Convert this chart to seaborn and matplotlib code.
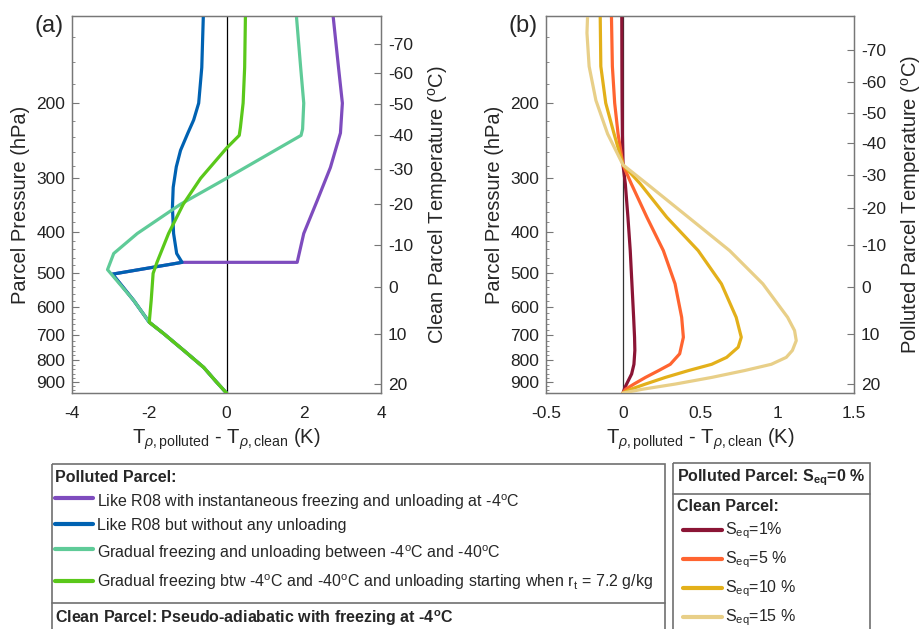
import matplotlib
matplotlib.use("Agg")
import matplotlib.pyplot as plt
import seaborn as sns
from matplotlib.patches import Rectangle
from matplotlib.ticker import FixedLocator, NullLocator, NullFormatter

# ---------------- panel (a): T_rho,polluted - T_rho,clean (K) vs parcel pressure (hPa)
p_purple = [125, 165, 200, 235, 283, 338, 404, 472, 472, 503, 580, 652, 694, 760, 832, 900, 955]
x_purple = [2.76, 2.90, 3.00, 2.95, 2.69, 2.35, 2.00, 1.83, -1.15, -2.95, -2.40, -2.00, -1.62, -1.10, -0.59, -0.26, 0.0]

p_blue = [125, 165, 200, 219, 235, 258, 282, 315, 351, 404, 450, 472, 503, 580, 652, 694, 760, 832, 900, 955]
x_blue = [-0.60, -0.64, -0.72, -0.85, -1.00, -1.19, -1.30, -1.38, -1.40, -1.37, -1.29, -1.15, -2.95, -2.40, -2.00, -1.62, -1.10, -0.59, -0.26, 0.0]

p_teal = [125, 165, 200, 230, 238, 300, 345, 404, 450, 491, 580, 652, 694, 760, 832, 900, 955]
x_teal = [1.81, 1.92, 2.00, 1.97, 1.93, 0.0, -1.19, -2.31, -2.92, -3.08, -2.40, -2.00, -1.62, -1.10, -0.59, -0.26, 0.0]

p_green = [125, 165, 200, 228, 238, 255, 300, 345, 404, 472, 501, 580, 652, 694, 760, 832, 900, 955]
x_green = [0.49, 0.47, 0.43, 0.36, 0.33, 0.0, -0.67, -1.12, -1.50, -1.80, -1.90, -1.95, -2.00, -1.62, -1.10, -0.59, -0.26, 0.0]

# ---------------- panel (b): clean parcel with different S_eq
p_s1 = [125, 164, 200, 236, 279, 309, 370, 443, 530, 635, 707, 759, 818, 862, 894, 926, 955]
x_s1 = [-0.008, -0.007, -0.006, -0.004, 0.0, 0.015, 0.032, 0.047, 0.058, 0.069, 0.075, 0.077, 0.071, 0.056, 0.034, 0.013, 0.0]

p_s5 = [125, 164, 200, 236, 279, 309, 370, 443, 530, 635, 707, 773, 818, 846, 878, 910, 936, 955]
x_s5 = [-0.075, -0.069, -0.054, -0.032, 0.0, 0.054, 0.155, 0.262, 0.338, 0.381, 0.392, 0.368, 0.307, 0.232, 0.146, 0.071, 0.017, 0.0]

p_s10 = [125, 164, 200, 236, 279, 309, 370, 443, 530, 635, 707, 746, 788, 818, 846, 878, 910, 936, 955]
x_s10 = [-0.148, -0.144, -0.112, -0.058, 0.0, 0.112, 0.284, 0.488, 0.639, 0.735, 0.768, 0.748, 0.673, 0.576, 0.426, 0.275, 0.146, 0.05, 0.0]

p_s15 = [125, 137, 164, 197, 236, 279, 309, 370, 443, 530, 635, 682, 720, 759, 788, 818, 846, 878, 910, 936, 955]
x_s15 = [-0.23, -0.234, -0.22, -0.176, -0.10, 0.0, 0.155, 0.424, 0.692, 0.908, 1.069, 1.114, 1.125, 1.10, 1.06, 0.963, 0.79, 0.576, 0.34, 0.125, 0.0]

# temperature axis (right side): where each temperature sits in pressure
temp_ticks = [-70, -60, -50, -40, -30, -20, -10, 0, 10, 20]
p_clean_temp = [145, 170, 201, 238, 286, 345, 430, 539, 693, 909]
p_polluted_temp = [150, 178, 211, 248, 294, 353, 431, 540, 693, 909]

pres_ticks = [200, 300, 400, 500, 600, 700, 800, 900]

colors_a = ["#7e4cbe", "#0062b2", "#5fcb98", "#5ac81a"]
colors_b = ["#8b1535", "#ff6430", "#e3b01a", "#e8cf88"]

labels_a = [
    "Like R08 with instantaneous freezing and unloading at -4$^{\\rm o}$C",
    "Like R08 but without any unloading",
    "Gradual freezing and unloading between -4$^{\\rm o}$C and -40$^{\\rm o}$C",
    "Gradual freezing btw -4$^{\\rm o}$C and -40$^{\\rm o}$C and unloading starting when r$_{\\rm t}$ = 7.2 g/kg",
]
labels_b = ["S$_{\\rm eq}$=1%", "S$_{\\rm eq}$=5 %", "S$_{\\rm eq}$=10 %", "S$_{\\rm eq}$=15 %"]

sns.set_style("white")
plt.rcParams["font.family"] = ["Liberation Sans", "DejaVu Sans"]
plt.rcParams["mathtext.fontset"] = "custom"
plt.rcParams["mathtext.rm"] = "Liberation Sans"
plt.rcParams["mathtext.it"] = "Liberation Sans:italic"
plt.rcParams["mathtext.bf"] = "Liberation Sans:bold"
plt.rcParams["axes.unicode_minus"] = False

W, H = 922, 629
fig = plt.figure(figsize=(W / 100, H / 100), dpi=100)

xlab = "T$_{\\rho\\rm ,polluted}$ - T$_{\\rho\\rm ,clean}$ (K)"
spine_c = "#777777"
tick_fs = 12.5
lab_fs = 14.5


def setup(ax, xlim, xticks, xticklabels, p_temp, rlabel):
    ax.set_yscale("log")
    ax.set_ylim(955, 125)
    ax.set_xlim(*xlim)
    ax.xaxis.set_major_locator(FixedLocator(xticks))
    ax.set_xticklabels(xticklabels)
    ax.yaxis.set_major_locator(FixedLocator(pres_ticks))
    ax.set_yticklabels([str(p) for p in pres_ticks])
    ax.yaxis.set_minor_locator(FixedLocator([p for p in range(140, 960, 20) if p % 100]))
    ax.yaxis.set_minor_formatter(NullFormatter())
    ax.xaxis.set_minor_locator(NullLocator())
    ax.tick_params(axis="both", which="both", direction="in", colors=spine_c,
                   labelcolor="#222222", labelsize=tick_fs)
    ax.tick_params(axis="y", pad=5)
    ax.tick_params(axis="x", pad=9)
    ax.tick_params(which="major", length=5)
    ax.tick_params(which="minor", length=2.5)
    for s in ax.spines.values():
        s.set_color(spine_c)
        s.set_linewidth(1.0)
    ax.set_ylabel("Parcel Pressure (hPa)", fontsize=lab_fs)
    ax.yaxis.set_label_coords(-0.135, 0.5)
    ax.set_xlabel(xlab, fontsize=lab_fs)
    ax.xaxis.set_label_coords(0.5, -0.09)

    ax2 = ax.twinx()
    ax2.set_yscale("log")
    ax2.set_ylim(955, 125)
    ax2.yaxis.set_major_locator(FixedLocator(p_temp))
    ax2.yaxis.set_minor_locator(NullLocator())
    ax2.yaxis.set_minor_formatter(NullFormatter())
    ax2.set_yticklabels([str(t) for t in temp_ticks])
    ax2.tick_params(axis="y", which="major", direction="in", length=5, colors=spine_c,
                    labelcolor="#222222", labelsize=tick_fs, pad=5)
    for s in ax2.spines.values():
        s.set_color(spine_c)
    ax2.set_ylabel(rlabel, fontsize=lab_fs)
    ax2.yaxis.set_label_coords(1.145, 0.5)
    return ax2


bottom = (H - 393) / H
height = 377 / H

# ---- panel (a)
axa = fig.add_axes([72 / W, bottom, 309 / W, height])
axa.axvline(0, color="black", lw=0.9, zorder=1)
for xs, ps, c in zip([x_purple, x_blue, x_teal, x_green], [p_purple, p_blue, p_teal, p_green], colors_a):
    sns.lineplot(x=xs, y=ps, sort=False, estimator=None, color=c, lw=2.3, ax=axa, zorder=3)
setup(axa, (-4, 4), [-4, -2, 0, 2, 4], ["-4", "-2", "0", "2", "4"],
      p_clean_temp, "Clean Parcel Temperature ($^{\\rm o}$C)")

# ---- panel (b)
axb = fig.add_axes([546 / W, bottom, 308 / W, height])
axb.axvline(0, color="#333333", lw=0.9, zorder=1)
for xs, ps, c in zip([x_s1, x_s5, x_s10, x_s15], [p_s1, p_s5, p_s10, p_s15], colors_b):
    sns.lineplot(x=xs, y=ps, sort=False, estimator=None, color=c, lw=2.3, ax=axb, zorder=3)
setup(axb, (-0.5, 1.5), [-0.5, 0, 0.5, 1, 1.5], ["-0.5", "0", "0.5", "1", "1.5"],
      p_polluted_temp, "Polluted Parcel Temperature ($^{\\rm o}$C)")

fig.text(35 / W, 1 - 26 / H, "(a)", fontsize=17, va="center", ha="left")
fig.text(508 / W, 1 - 26 / H, "(b)", fontsize=17, va="center", ha="left")

# ---- legend boxes, drawn in pixel coordinates
ov = fig.add_axes([0, 0, 1, 1])
ov.set_xlim(0, W)
ov.set_ylim(H, 0)
ov.axis("off")
box_c = "#707070"
ov.add_patch(Rectangle((51.7, 464), 665 - 51.7, 200, fill=False, ec=box_c, lw=1.2))
ov.plot([51.7, 665], [602.7, 602.7], color=box_c, lw=1.2)
ov.add_patch(Rectangle((673.3, 463), 870 - 673.3, 200, fill=False, ec=box_c, lw=1.2))
ov.plot([673.3, 870], [494, 494], color=box_c, lw=1.2)

fs = 11.5
ov.text(55, 481.7, "Polluted Parcel:", fontsize=fs, weight="bold", va="baseline")
for y_line, y_txt, c, lab in zip([498, 523.7, 549, 581.3], [506.7, 530, 557.7, 586.7], colors_a, labels_a):
    ov.plot([55, 93], [y_line, y_line], color=c, lw=3)
    ov.text(97, y_txt, lab, fontsize=fs, va="baseline")
ov.text(55, 623.3, "Clean Parcel: Pseudo-adiabatic with freezing at -4$^{\\mathbf{o}}$C",
        fontsize=fs, weight="bold", va="baseline")

ov.text(676.7, 481.7, "Polluted Parcel: S$_{\\mathbf{eq}}$=0 %", fontsize=fs, weight="bold", va="baseline")
ov.text(676.7, 511, "Clean Parcel:", fontsize=fs, weight="bold", va="baseline")
for y_line, y_txt, c, lab in zip([530, 559, 588, 617.3], [534.3, 563.3, 592.3, 621.7], colors_b, labels_b):
    ov.plot([683, 722], [y_line, y_line], color=c, lw=3)
    ov.text(725, y_txt, lab, fontsize=fs, va="baseline")

fig.savefig("out.png", dpi=100)
